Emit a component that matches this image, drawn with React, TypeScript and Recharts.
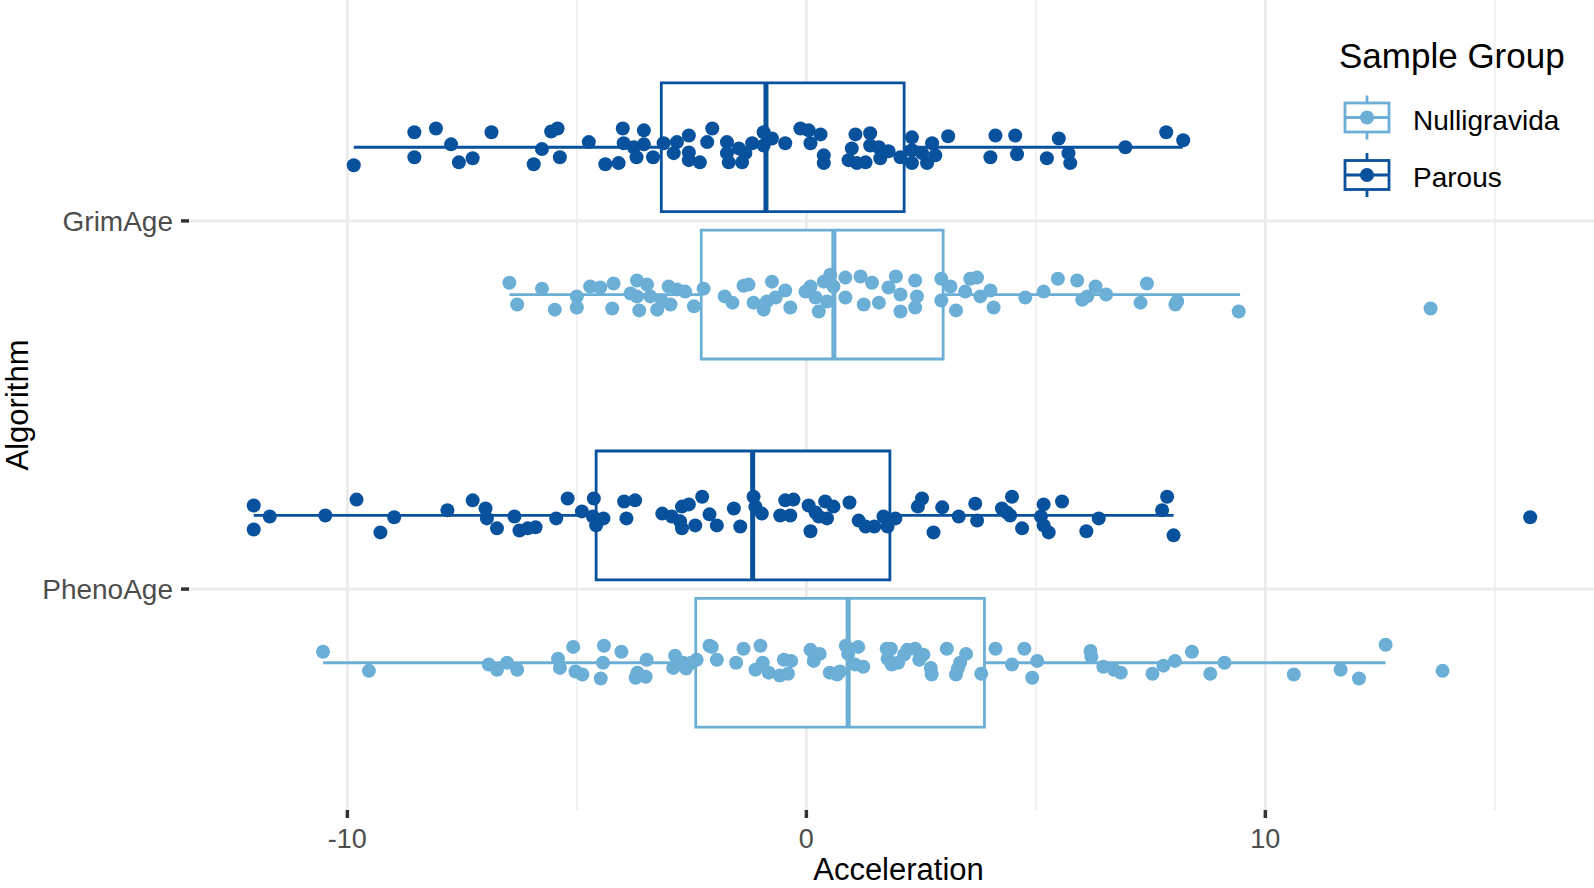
import React from 'react';
import {
  ScatterChart,
  Scatter,
  XAxis,
  YAxis,
  ReferenceArea,
  ReferenceLine,
  Legend,
  Label,
} from 'recharts';

// ---------- data ----------
const algorithms = ['GrimAge', 'PhenoAge'];
const groups = ['Nulligravida', 'Parous'];
const groupColors: Record<string, string> = { Nulligravida: '#6BAED6', Parous: '#08519C' };
const xTicks = [-10, 0, 10];
const xMinorTicks = [-5, 5, 15];
const yTicks = [1, 2];

// box statistics: [algorithm, group, lower whisker, q1, median, q3, upper whisker]
const boxStats: [string, string, number, number, number, number, number][] = [
  ['GrimAge', 'Parous', -9.86, -3.16, -0.88, 2.13, 8.2],
  ['GrimAge', 'Nulligravida', -6.47, -2.29, 0.6, 2.98, 9.45],
  ['PhenoAge', 'Parous', -12.04, -4.58, -1.17, 1.82, 8.0],
  ['PhenoAge', 'Nulligravida', -10.53, -2.41, 0.91, 3.88, 12.62],
];

// jittered points: [acceleration, vertical jitter (category units)]
const grimParous: [number, number][] = [
  [-9.86, 0.049], [-8.54, -0.041], [-8.54, 0.027], [-8.07, -0.051], [-7.74, -0.008], [-7.57, 0.041],
  [-7.27, 0.03], [-6.86, -0.041], [-5.94, 0.046], [-5.76, 0.005], [-5.56, -0.043], [-5.42, -0.051],
  [-5.37, 0.027], [-4.74, -0.014], [-4.38, 0.046], [-4.09, 0.043], [-4.0, -0.051], [-3.98, -0.011],
  [-3.76, 0], [-3.7, 0.027], [-3.54, -0.046], [-3.54, -0.008], [-3.34, 0.027], [-3.11, -0.011],
  [-2.89, 0.016], [-2.82, -0.014], [-2.56, -0.032], [-2.56, 0.014], [-2.56, 0.035], [-2.32, 0.041],
  [-2.16, -0.014], [-2.05, -0.051], [-1.73, -0.014], [-1.73, 0.016], [-1.69, 0.041], [-1.47, 0.003],
  [-1.4, 0.041], [-1.33, 0.016], [-1.18, -0.011], [-0.93, -0.041], [-0.93, -0.005], [-0.75, -0.024],
  [-0.46, -0.011], [-0.13, -0.051], [0.05, -0.046], [0.09, -0.011], [0.31, -0.035], [0.38, 0.022],
  [0.38, 0.043], [1.07, -0.035], [0.99, 0.003], [0.92, 0.035], [1.1, 0.043], [1.29, 0.041],
  [1.39, -0.038], [1.39, -0.005], [1.58, 0], [1.61, 0.03], [1.79, 0.011], [2.05, 0.027],
  [2.3, -0.027], [2.3, 0.008], [2.3, 0.043], [2.52, 0.016], [2.63, 0.043], [2.74, -0.011],
  [2.81, 0.022], [3.09, -0.03], [4.01, 0.027], [4.12, -0.032], [4.55, -0.032], [4.59, 0.019],
  [5.24, 0.03], [5.5, -0.024], [5.71, 0.016], [5.75, 0.043], [6.95, 0], [7.84, -0.041], [8.21, -0.019],
];

const grimNulli: [number, number][] = [
  [-6.47, -0.032], [-6.3, 0.027], [-5.76, -0.016], [-5.48, 0.041], [-5.0, 0.005], [-5.0, 0.035],
  [-4.71, -0.022], [-4.49, -0.019], [-4.2, -0.03], [-4.23, 0.038], [-3.83, -0.003], [-3.69, -0.038],
  [-3.47, -0.027], [-3.69, 0.005], [-3.64, 0.043], [-3.4, 0.005], [-3.25, 0.041], [-3.14, 0.019],
  [-3.0, -0.022], [-2.96, 0.027], [-2.82, -0.014], [-2.64, -0.008], [-2.45, 0.032], [-2.24, -0.016],
  [-1.78, 0.005], [-1.61, 0.022], [-1.37, -0.024], [-1.26, -0.027], [-1.15, 0.022], [-0.93, 0.041],
  [-0.75, -0.035], [-0.86, 0.019], [-0.67, 0.008], [-0.46, -0.011], [-0.35, 0.035], [-0.02, -0.008],
  [0.09, -0.022], [0.2, 0.008], [0.27, 0.046], [0.38, -0.035], [0.45, 0.019], [0.52, -0.054],
  [0.59, -0.022], [0.85, -0.046], [0.85, 0.008], [1.18, -0.049], [1.25, 0.027], [1.43, -0.032],
  [1.58, 0.022], [1.79, -0.019], [1.95, -0.049], [2.05, 0], [2.05, 0.046], [2.37, -0.038],
  [2.37, 0.035], [2.41, 0.005], [2.94, -0.043], [2.94, 0.016], [3.14, -0.022], [3.26, 0.043],
  [3.46, -0.008], [3.57, -0.043], [3.72, -0.046], [3.79, 0.005], [4.01, -0.011], [4.08, 0.035],
  [4.77, 0.008], [5.17, -0.008], [5.48, -0.043], [5.9, -0.038], [6.01, 0.014], [6.12, 0.005],
  [6.3, -0.022], [6.53, 0], [7.28, 0.022], [7.42, -0.03], [8.04, 0.027], [8.08, 0.019],
  [9.42, 0.046], [13.6, 0.038],
];

const phenoParous: [number, number][] = [
  [-12.04, -0.027], [-12.04, 0.038], [-11.69, 0.003], [-10.48, 0], [-9.8, -0.043], [-9.28, 0.046],
  [-8.98, 0.005], [-7.82, -0.014], [-7.27, -0.041], [-6.99, -0.019], [-6.96, 0.008], [-6.74, 0.035],
  [-6.36, 0.003], [-6.25, 0.041], [-6.07, 0.035], [-5.9, 0.032], [-5.45, 0.008], [-5.2, -0.046],
  [-4.89, -0.011], [-4.63, -0.046], [-4.65, 0.003], [-4.58, 0.027], [-4.42, 0.008], [-3.97, -0.038],
  [-3.73, -0.041], [-3.92, 0.008], [-3.14, -0.005], [-2.93, 0.003], [-2.71, -0.024], [-2.56, -0.03],
  [-2.75, 0.016], [-2.71, 0.035], [-2.42, 0.027], [-2.27, -0.051], [-2.11, -0.003], [-1.95, 0.027],
  [-1.58, -0.019], [-1.44, 0.03], [-1.15, -0.051], [-1.11, -0.024], [-0.97, -0.005], [-0.57, 0],
  [-0.46, -0.041], [-0.28, -0.043], [-0.35, 0], [0.05, -0.027], [0.09, 0.043], [0.2, -0.008],
  [0.27, 0.003], [0.41, -0.038], [0.45, 0.008], [0.59, -0.024], [0.94, -0.035], [1.14, 0.014],
  [1.29, 0.03], [1.48, 0.03], [1.68, 0.003], [1.77, 0.03], [1.94, 0.008], [2.43, -0.024],
  [2.52, -0.046], [2.77, 0.046], [2.96, -0.022], [3.32, 0.003], [3.68, -0.032], [3.72, 0.014],
  [4.26, -0.019], [4.37, -0.008], [4.48, -0.051], [4.44, 0], [4.7, 0.035], [5.17, -0.03],
  [5.11, 0.003], [5.17, 0.027], [5.28, 0.046], [5.57, -0.038], [6.1, 0.043], [6.37, 0.008],
  [7.86, -0.051], [7.75, -0.014], [8.0, 0.054], [15.77, 0.005],
];

const phenoNulli: [number, number][] = [
  [-10.53, -0.03], [-9.53, 0.022], [-6.92, 0.005], [-6.74, 0.019], [-6.52, 0], [-6.3, 0.019],
  [-5.41, -0.011], [-5.37, 0.014], [-5.08, -0.043], [-5.03, 0.024], [-4.88, 0.032], [-4.48, 0.043],
  [-4.43, 0], [-4.41, -0.046], [-4.03, -0.03], [-3.72, 0.041], [-3.68, 0.027], [-3.5, 0.038],
  [-3.48, -0.008], [-2.9, 0.014], [-2.86, -0.019], [-2.68, 0], [-2.62, 0.016], [-2.51, 0],
  [-2.39, -0.008], [-2.11, -0.046], [-2.06, -0.043], [-1.95, -0.008], [-1.53, 0], [-1.37, -0.038],
  [-1.11, 0.019], [-1.0, -0.046], [-0.95, 0], [-0.82, 0.027], [-0.58, 0.035], [-0.49, -0.008],
  [-0.4, 0.03], [-0.33, -0.005], [0.09, -0.035], [0.16, -0.005], [0.18, -0.016], [0.29, -0.024],
  [0.51, 0.027], [0.67, 0.032], [0.73, 0.024], [0.86, -0.046], [0.91, -0.024], [1.06, 0.005],
  [1.13, -0.043], [1.24, 0.011], [1.75, -0.038], [1.77, -0.011], [1.84, -0.038], [1.86, 0.005],
  [2.0, 0], [2.13, -0.022], [2.2, -0.035], [2.37, -0.038], [2.46, -0.008], [2.55, -0.022],
  [2.71, 0.014], [2.73, 0.032], [3.06, -0.038], [3.26, 0.032], [3.3, 0.016], [3.35, 0],
  [3.48, -0.024], [3.81, 0.03], [4.12, -0.038], [4.48, 0.005], [4.75, -0.038], [4.92, 0.041],
  [5.03, -0.005], [6.19, -0.032], [6.21, -0.016], [6.47, 0.011], [6.7, 0.019], [6.85, 0.027],
  [7.54, 0.03], [7.78, 0.008], [8.03, -0.005], [8.4, -0.03], [8.8, 0.03], [9.11, 0],
  [10.62, 0.032], [11.64, 0.019], [12.04, 0.043], [12.62, -0.049], [13.86, 0.022],
];

// ---------- layout / style ----------
const W = 1594;
const H = 888;
const FONT = '"Liberation Sans", Arial, Helvetica, sans-serif';
const GRID = '#EBEBEB';
const DODGE: Record<string, number> = { Parous: -0.2, Nulligravida: 0.2 };
const HALF = 0.175;

const catPos = (alg: string) => algorithms.indexOf(alg) + 1;

const toPoints = (arr: [number, number][], alg: string, grp: string) =>
  arr.map(([v, j]) => ({ x: v, y: catPos(alg) + DODGE[grp] + j }));

const seriesData: Record<string, { x: number; y: number }[]> = {
  Nulligravida: [...toPoints(grimNulli, 'GrimAge', 'Nulligravida'), ...toPoints(phenoNulli, 'PhenoAge', 'Nulligravida')],
  Parous: [...toPoints(grimParous, 'GrimAge', 'Parous'), ...toPoints(phenoParous, 'PhenoAge', 'Parous')],
};

const renderLegend = () => (
  <svg width={274} height={180} style={{ display: 'block', fontFamily: FONT }}>
    <text x={19} y={38} fontSize={35} fill="#000">
      Sample Group
    </text>
    {groups.map((g, i) => {
      const cy = 87.5 + i * 57.5;
      const c = groupColors[g];
      return (
        <g key={g}>
          <line x1={47} x2={47} y1={cy - 22} y2={cy + 22} stroke={c} strokeWidth={2.8} />
          <rect x={25} y={cy - 14.5} width={44} height={29} fill="#fff" stroke={c} strokeWidth={2.8} />
          <line x1={25} x2={69} y1={cy} y2={cy} stroke={c} strokeWidth={2.8} />
          <circle cx={47} cy={cy} r={7} fill={c} />
          <text x={93} y={cy + 12} fontSize={28} fill="#000">
            {g}
          </text>
        </g>
      );
    })}
  </svg>
);

export default function App() {
  return (
    <div style={{ position: 'absolute', left: 0, top: 0, width: W, height: H, background: '#fff', fontFamily: FONT }}>
      <ScatterChart width={W} height={H} margin={{ top: 0, right: 0, bottom: 0, left: 0 }}>
        {xMinorTicks.map((t) => (
          <ReferenceLine key={'m' + t} x={t} stroke={GRID} strokeWidth={1.4} zIndex={-90} />
        ))}
        {xTicks.map((t) => (
          <ReferenceLine key={'g' + t} x={t} stroke={GRID} strokeWidth={2.7} zIndex={-90} />
        ))}
        {yTicks.map((t) => (
          <ReferenceLine key={'h' + t} y={t} stroke={GRID} strokeWidth={2.7} zIndex={-90} />
        ))}
        {boxStats.map(([alg, grp, , q1, , q3]) => {
          const c = catPos(alg) + DODGE[grp];
          return (
            <ReferenceArea
              key={'f' + alg + grp}
              x1={q1}
              x2={q3}
              y1={c - HALF}
              y2={c + HALF}
              fill="#fff"
              fillOpacity={1}
              stroke="none"
              zIndex={-50}
            />
          );
        })}
        <XAxis
          type="number"
          dataKey="x"
          domain={[-13.45, 17.16]}
          allowDataOverflow
          ticks={xTicks}
          height={78}
          axisLine={false}
          tickSize={8}
          tickMargin={11}
          tickLine={{ stroke: '#333', strokeWidth: 3.5 }}
          tick={{ fill: '#4D4D4D', fontSize: 27, fontFamily: FONT }}
        >
          <Label
            content={(p: any) => {
              const vb = p.viewBox || { x: 189, y: 810, width: 1405, height: 78 };
              return (
                <text x={vb.x + vb.width / 2 + 7} y={880} textAnchor="middle" fontSize={31} fill="#000" fontFamily={FONT}>
                  Acceleration
                </text>
              );
            }}
          />
        </XAxis>
        <YAxis
          type="number"
          dataKey="y"
          domain={[0.4, 2.6]}
          reversed
          allowDataOverflow
          ticks={yTicks}
          tickFormatter={(v: number) => algorithms[v - 1]}
          width={189}
          axisLine={false}
          tickSize={8}
          tickMargin={8}
          tickLine={{ stroke: '#333', strokeWidth: 3.5 }}
          tick={{ fill: '#4D4D4D', fontSize: 28, fontFamily: FONT }}
        >
          <Label
            content={(p: any) => {
              const vb = p.viewBox || { x: 0, y: 0, width: 189, height: 810 };
              const cy = vb.y + vb.height / 2;
              return (
                <text
                  x={28}
                  y={cy}
                  transform={`rotate(-90 28 ${cy})`}
                  textAnchor="middle"
                  fontSize={31}
                  fill="#000"
                  fontFamily={FONT}
                >
                  Algorithm
                </text>
              );
            }}
          />
        </YAxis>
        {groups.map((g) => (
          <Scatter
            key={g}
            name={g}
            data={seriesData[g]}
            fill={groupColors[g]}
            isAnimationActive={false}
            shape={(p: any) => <circle cx={p.cx} cy={p.cy} r={7} fill={groupColors[g]} />}
          />
        ))}
        {boxStats.map(([alg, grp, , q1, , q3]) => {
          const c = catPos(alg) + DODGE[grp];
          return (
            <ReferenceArea
              key={'o' + alg + grp}
              x1={q1}
              x2={q3}
              y1={c - HALF}
              y2={c + HALF}
              fill="none"
              fillOpacity={0}
              stroke={groupColors[grp]}
              strokeWidth={2.8}
              zIndex={700}
            />
          );
        })}
        {boxStats.map(([alg, grp, lo, q1, med, q3, hi]) => {
          const c = catPos(alg) + DODGE[grp];
          const col = groupColors[grp];
          return (
            <React.Fragment key={'l' + alg + grp}>
              <ReferenceLine segment={[{ x: lo, y: c }, { x: q1, y: c }]} stroke={col} strokeWidth={2.8} zIndex={700} />
              <ReferenceLine segment={[{ x: q3, y: c }, { x: hi, y: c }]} stroke={col} strokeWidth={2.8} zIndex={700} />
              <ReferenceLine
                segment={[{ x: med, y: c - HALF }, { x: med, y: c + HALF }]}
                stroke={col}
                strokeWidth={5}
                zIndex={700}
              />
            </React.Fragment>
          );
        })}
        <Legend
          layout="vertical"
          align="center"
          verticalAlign="middle"
          content={renderLegend}
          wrapperStyle={{ position: 'absolute', left: 1320, top: 30, width: 274, height: 180 }}
        />
      </ScatterChart>
    </div>
  );
}
